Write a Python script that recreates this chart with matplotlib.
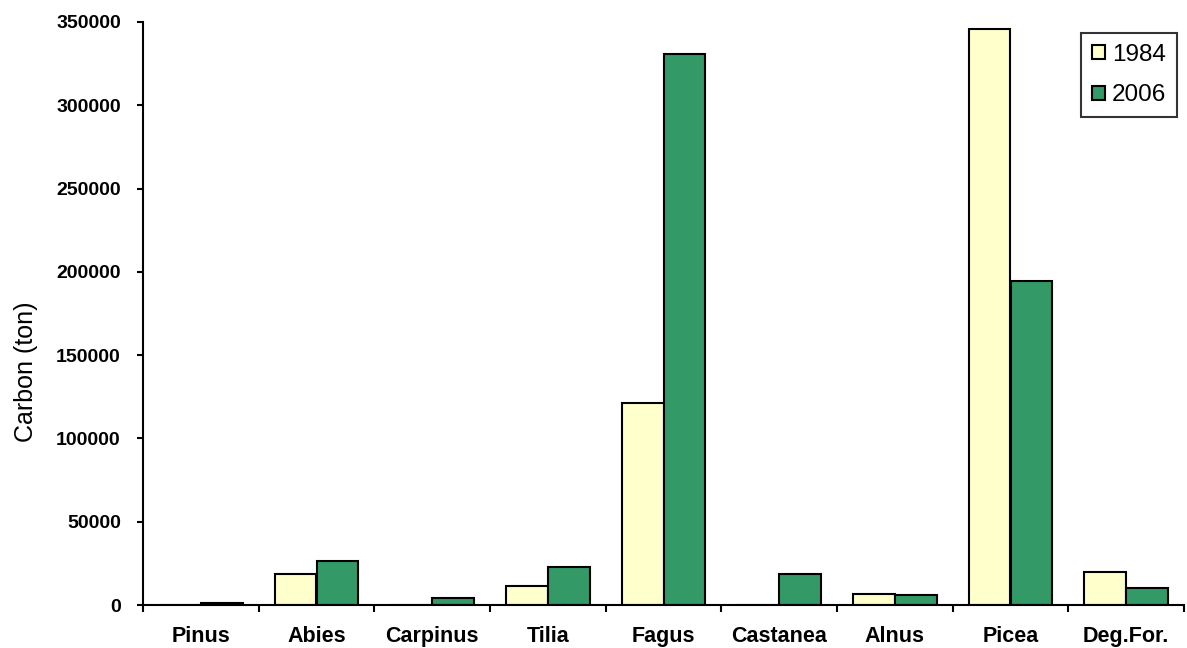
import numpy as np
import matplotlib.pyplot as plt
from matplotlib.ticker import FixedLocator

# Data
species = ["Pinus", "Abies", "Carpinus", "Tilia", "Fagus",
           "Castanea", "Alnus", "Picea", "Deg.For."]
carbon_1984 = [0, 18700, 0, 11600, 121000, 0, 6500, 345600, 19600]
carbon_2006 = [1500, 26200, 4400, 23000, 331000, 18800, 6000, 194400, 10400]

plt.rcParams['font.family'] = ['Liberation Sans', 'DejaVu Sans']

fig = plt.figure(figsize=(11.87, 6.48), dpi=100)
ax = fig.add_axes([143 / 1187, 1 - 605 / 648, 1041 / 1187, 583 / 648])

x = np.arange(len(species))
w = 0.362
ax.bar(x - w / 2, carbon_1984, width=w, color="#FFFFCC", edgecolor="black",
       linewidth=1.5, label="1984")
ax.bar(x + w / 2, carbon_2006, width=w, color="#339966", edgecolor="black",
       linewidth=1.5, label="2006")

ax.set_xlim(-0.5, len(species) - 0.5)
ax.set_ylim(0, 350000)
ax.set_yticks(np.arange(0, 350001, 50000))
ax.set_yticklabels([str(v) for v in range(0, 350001, 50000)],
                   fontsize=14, fontweight="bold")
ax.set_xticks(x)
ax.set_xticklabels(species, fontsize=15.5, fontweight="bold")
ax.xaxis.set_minor_locator(FixedLocator(np.arange(-0.5, len(species), 1)))
ax.tick_params(axis="x", which="major", length=0, pad=15)
ax.tick_params(axis="x", which="minor", length=5, width=1.5, direction="out")
ax.tick_params(axis="y", length=4, width=1.5, direction="out", pad=12)

for s in ["top", "right"]:
    ax.spines[s].set_visible(False)
for s in ["left", "bottom"]:
    ax.spines[s].set_linewidth(1.5)

ax.set_ylabel("Carbon (ton)", fontsize=18)
ax.yaxis.set_label_coords(-0.101, 0.40)

leg = ax.legend(loc="upper right", bbox_to_anchor=(0.9933, 0.981),
                borderaxespad=0, fontsize=17.5, frameon=True, fancybox=False,
                edgecolor="black", handlelength=0.5, handleheight=0.5,
                handletextpad=0.3, labelspacing=0.75, borderpad=0.45)
leg.get_frame().set_linewidth(1.5)

fig.savefig("out.png", dpi=100)
